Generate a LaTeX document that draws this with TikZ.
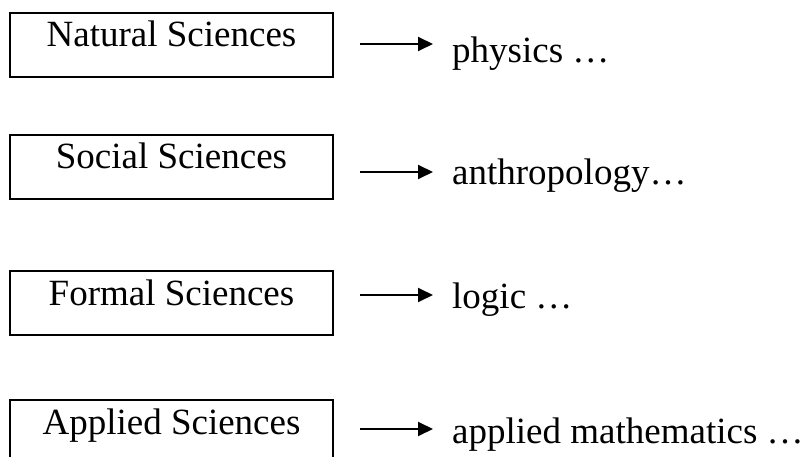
\documentclass[tikz,border=0pt]{standalone}
\usepackage{fontspec}
\setmainfont{Liberation Serif}
\usetikzlibrary{arrows.meta,calc}
\begin{document}
\begin{tikzpicture}[x=1pt,y=-1pt,
  catbox/.style={draw,line width=2pt,inner sep=0pt,anchor=north west,
    minimum width=323pt,text height=34pt,text depth=30pt,
    font=\fontsize{37}{40}\selectfont},
  itemtext/.style={inner sep=0pt,anchor=base west,font=\fontsize{37}{40}\selectfont},
  arr/.style={line width=1.9pt,-{Triangle[length=15pt,width=14pt]}}]
\useasboundingbox (0,0) rectangle (806,457);
\node[catbox] (b1) at (9,12) {Natural Sciences};
\node[catbox] (b2) at (9,134) {Social Sciences};
\node[catbox] (b3) at (9,270) {Formal Sciences};
\node[catbox] (b4) at (9,399) {Applied Sciences};
\node[itemtext] (t1) at (452,63) {physics \ldots};
\node[itemtext] (t2) at (452,185) {anthropology\ldots};
\node[itemtext] (t3) at (452,308) {logic \ldots};
\node[itemtext] (t4) at (452,443) {applied mathematics \ldots};
\coordinate (y1) at (0,44);
\coordinate (y2) at (0,172);
\coordinate (y3) at (0,295);
\coordinate (y4) at (0,429);
\draw[arr] ($(b1.east |- y1)+(26,0)$) -- ($(t1.west |- y1)+(-19,0)$);
\draw[arr] ($(b2.east |- y2)+(26,0)$) -- ($(t2.west |- y2)+(-19,0)$);
\draw[arr] ($(b3.east |- y3)+(26,0)$) -- ($(t3.west |- y3)+(-19,0)$);
\draw[arr] ($(b4.east |- y4)+(26,0)$) -- ($(t4.west |- y4)+(-19,0)$);
\end{tikzpicture}
\end{document}
